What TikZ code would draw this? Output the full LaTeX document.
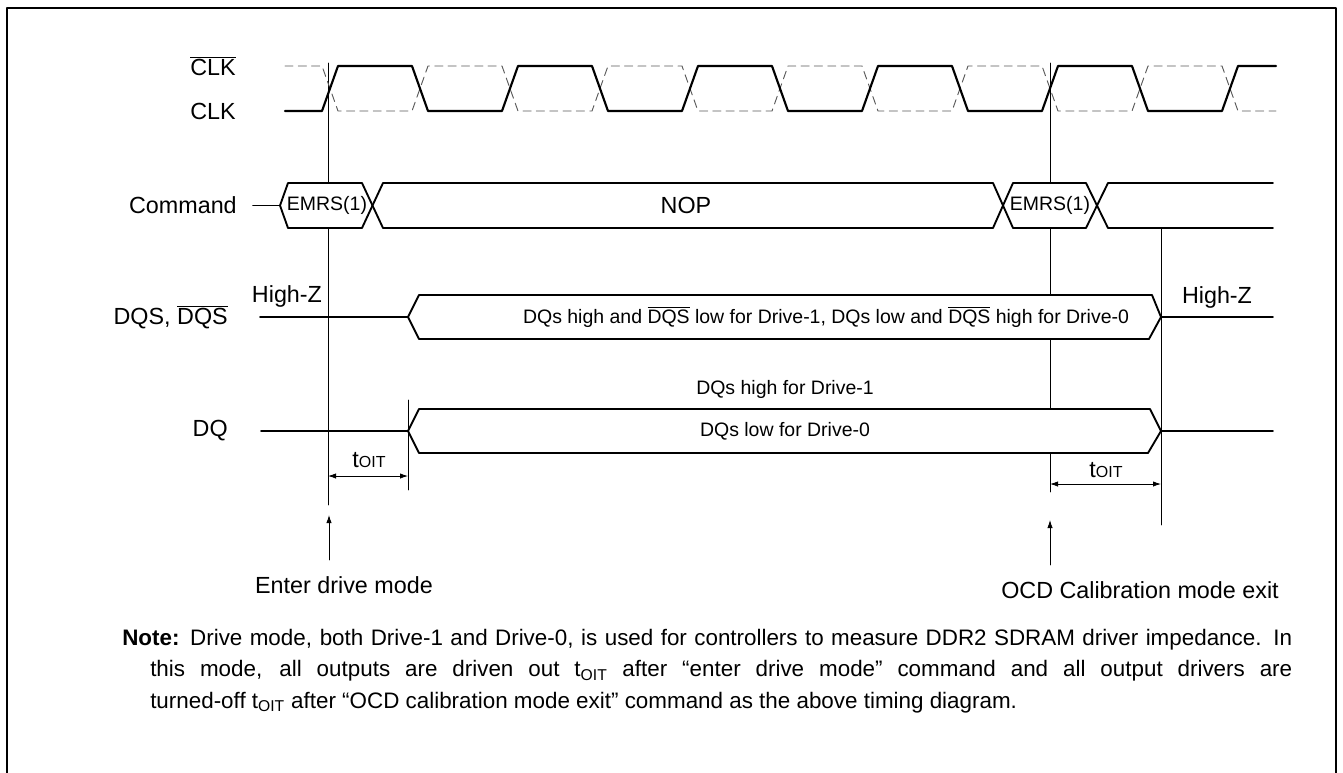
\documentclass[tikz,border=0pt]{standalone}
\usepackage{fontspec}
\setmainfont{Liberation Sans}
\usetikzlibrary{arrows.meta}
\newcommand\lblfont{\fontsize{17.5}{21}\selectfont}
\newcommand\busfont{\fontsize{14.6}{17}\selectfont}
\newcommand\notefont{\fontsize{16.8}{23.6}\selectfont}
\newcommand\ovl[1]{$\overline{\mbox{#1}}$}
\newcommand\toit{t{\fontsize{12}{12}\selectfont OIT}}
\tikzset{
  sig/.style={line width=1.6pt},
  clkbar/.style={line width=0.7pt,black!65,dash pattern=on 6pt off 4pt},
  wire/.style={line width=1.4pt},
  bus/.style={line width=1.4pt,fill=white},
  guide/.style={line width=0.6pt},
  lbl/.style={inner sep=0pt,font=\lblfont},
  bustext/.style={inner sep=0pt,font=\busfont},
}
\begin{document}
\begin{tikzpicture}[x=0.75pt,y=-0.75pt,>={Latex[length=6pt,width=4pt]},line join=round,line cap=round]
  \useasboundingbox (0,0) rectangle (1343,772);
  \draw[line width=1pt] (7,800) -- (7,8) -- (1336,8) -- (1336,800);
  % signal names
  \node[lbl,anchor=east] (clkb) at (236,66) {\ovl{CLK}};
  \node[lbl,anchor=east] (clk) at (236,111) {CLK};
  \node[lbl,anchor=east] (cmd) at (237,205.5) {Command};
  \node[lbl,anchor=east] (dqs) at (228,317) {DQS, \ovl{DQS}};
  \node[lbl,anchor=east] (dq) at (228,431) {DQ};
  % guide lines
  \draw[guide] (328,63) -- (328,505);
  \draw[guide] (1050,63) -- (1050,492);
  \draw[guide] (1161,228) -- (1161,525);
  \draw[guide] (408,400) -- (408,490);
  % clock pair
  \draw[clkbar] (285,66) foreach \k in {0,...,4}{ -- (322+180*\k,66) -- (338+180*\k,111) -- (412+180*\k,111) -- (428+180*\k,66)} -- (1222,66) -- (1238,111) -- (1276,111);
  \draw[sig] (285,111) foreach \k in {0,...,4}{ -- (322+180*\k,111) -- (338+180*\k,66) -- (412+180*\k,66) -- (428+180*\k,111)} -- (1222,111) -- (1238,66) -- (1276,66);
  % command bus
  \draw[wire] (253,205.5) -- (280,205.5);
  \draw[bus] (280,205.5) -- (288,183) -- (362,183) -- (372.5,205.5) -- (362,228) -- (288,228) -- cycle;
  \draw[bus] (372.5,205.5) -- (383,183) -- (993,183) -- (1003,205.5) -- (993,228) -- (383,228) -- cycle;
  \draw[bus] (1003,205.5) -- (1013,183) -- (1086,183) -- (1097,205.5) -- (1086,228) -- (1013,228) -- cycle;
  \draw[bus] (1273,183) -- (1108,183) -- (1097,205.5) -- (1108,228) -- (1273,228);
  \node[bustext] (emrsa) at (327,205.5) {EMRS(1)};
  \node[lbl] (nop) at (686,205.5) {NOP};
  \node[bustext] (emrsb) at (1050,205.5) {EMRS(1)};
  % DQS
  \draw[wire] (260,317) -- (408,317);
  \draw[bus] (408,317) -- (419,295) -- (1152,295) -- (1161,317) -- (1149,339) -- (419,339) -- cycle;
  \draw[wire] (1161,317) -- (1273,317);
  \node[bustext] (dqsdrv) at (826,317) {DQs high and \ovl{DQS} low for Drive-1, DQs low and \ovl{DQS} high for Drive-0};
  \node[lbl] (hza) at (287,296) {High-Z};
  \node[lbl] (hzb) at (1217,297) {High-Z};
  % DQ
  \draw[wire] (261,431) -- (408,431);
  \draw[bus] (408,431) -- (419,409) -- (1150,409) -- (1161,431) -- (1148,453) -- (419,453) -- cycle;
  \draw[wire] (1161,431) -- (1273,431);
  \node[bustext] (dqhi) at (785,389) {DQs high for Drive-1};
  \node[bustext] (dqlo) at (785,431) {DQs low for Drive-0};
  % tOIT
  \draw[guide,<->] (328,476) -- (408,476);
  \node[lbl] (toita) at (369,460) {\toit};
  \draw[guide,<->] (1050,484) -- (1161,484);
  \node[lbl] (toitb) at (1106,470) {\toit};
  % mode marks
  \coordinate (entertail) at (329,560);
  \coordinate (entertip) at (329,515);
  \coordinate (ocdtail) at (1050,565);
  \coordinate (ocdtip) at (1050,520);
  \draw[guide,->] (entertail) -- (entertip);
  \draw[guide,->] (ocdtail) -- (ocdtip);
  \node[lbl] (enter) at (344,585) {Enter drive mode};
  \node[lbl] (ocd) at (1140,590) {OCD Calibration mode exit};
  % note
  \node[anchor=north west,inner sep=0pt,text width=877.5pt,align=justify,font=\notefont] (note) at (122,629)
    {\hangindent=21pt\hangafter=1\hyphenpenalty=10000\tolerance=10000
     \textbf{Note:} Drive mode, both Drive-1 and Drive-0, is used for controllers to measure DDR2 SDRAM driver impedance. In\linebreak
     this mode, all outputs are driven out t\textsubscript{OIT} after “enter drive mode” command and all output drivers are\linebreak
     turned-off t\textsubscript{OIT} after “OCD calibration mode exit” command as the above timing diagram.\par};
\end{tikzpicture}
\end{document}
